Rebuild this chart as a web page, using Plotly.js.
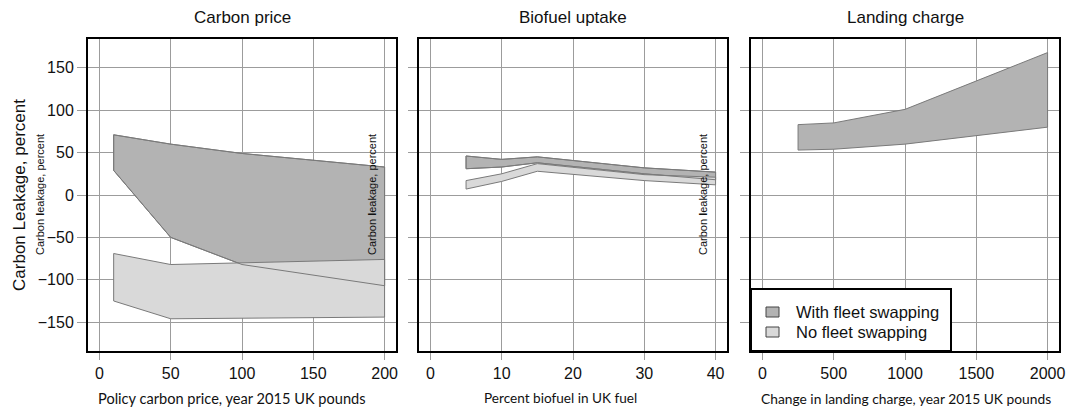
<!DOCTYPE html>
<html>
<head>
<meta charset="utf-8">
<script src="https://cdn.plot.ly/plotly-3.0.1.min.js"></script>
<style>
  html, body { margin: 0; padding: 0; background: #ffffff; }
  #chart { width: 1067px; height: 410px; }
</style>
</head>
<body>
<div id="chart"></div>
<script>
// Carbon leakage ranges (percent) for three policy levers, with and without fleet swapping.

// Panel 1: policy carbon price (year 2015 UK pounds)
const carbonPrice = [10, 50, 100, 200];
const carbonSwapUpper = [71, 60, 49, 33];
const carbonSwapLower = [29, -50, -82, -107];
const carbonNoSwapUpper = [-69, -82, -80, -76];
const carbonNoSwapLower = [-125, -146, -145, -144];

// Panel 2: percent biofuel in UK fuel
const biofuelShare = [5, 10, 15, 30, 40];
const biofuelSwapUpper = [46, 42, 45, 32, 27];
const biofuelSwapLower = [31, 33, 38, 25, 18];
const biofuelNoSwapUpper = [17, 25, 37, 24, 21];
const biofuelNoSwapLower = [7, 16, 28, 17, 12];

// Panel 3: change in landing charge (year 2015 UK pounds)
const landingCharge = [250, 500, 1000, 2000];
const landingSwapUpper = [83, 85, 101, 168];
const landingSwapLower = [53, 54, 60, 80];

// Axis ticks
const yTicks = [-150, -100, -50, 0, 50, 100, 150];
const xTicks1 = [0, 50, 100, 150, 200];
const xTicks2 = [0, 10, 20, 30, 40];
const xTicks3 = [0, 500, 1000, 1500, 2000];

const panelTitles = ['Carbon price', 'Biofuel uptake', 'Landing charge'];
const xTitles = [
  'Policy carbon price, year 2015 UK pounds',
  'Percent biofuel in UK fuel',
  'Change in landing charge, year 2015 UK pounds'
];
const yTitle = 'Carbon Leakage, percent';
const seriesNames = ['With fleet swapping', 'No fleet swapping'];

const DARK = '#b3b3b3';
const LIGHT = '#d9d9d9';
const EDGE = '#7a7a7a';
const GRID = '#9c9c9c';
const SANS = 'Liberation Sans, Arial, sans-serif';
const HUMANIST = 'Lato, Open Sans, sans-serif';

// Closed band polygon between an upper and a lower edge
function band(xs, upper, lower) {
  const x = xs.concat(xs.slice().reverse(), [xs[0]]);
  const y = upper.concat(lower.slice().reverse(), [upper[0]]);
  return { x, y };
}

function fillTrace(b, color, axis, name) {
  return {
    type: 'scatter', mode: 'lines', x: b.x, y: b.y,
    fill: 'toself', fillcolor: color,
    line: { color: EDGE, width: 1 },
    xaxis: 'x' + axis, yaxis: 'y' + axis,
    name: name, showlegend: false, hoverinfo: 'skip'
  };
}

function edgeTrace(b, axis) {
  return {
    type: 'scatter', mode: 'lines', x: b.x, y: b.y,
    line: { color: EDGE, width: 1 },
    xaxis: 'x' + axis, yaxis: 'y' + axis,
    showlegend: false, hoverinfo: 'skip'
  };
}

const b1s = band(carbonPrice, carbonSwapUpper, carbonSwapLower);
const b1n = band(carbonPrice, carbonNoSwapUpper, carbonNoSwapLower);
const b2s = band(biofuelShare, biofuelSwapUpper, biofuelSwapLower);
const b2n = band(biofuelShare, biofuelNoSwapUpper, biofuelNoSwapLower);
const b3s = band(landingCharge, landingSwapUpper, landingSwapLower);

const data = [
  fillTrace(b1s, DARK, '', seriesNames[0]),
  fillTrace(b1n, LIGHT, '', seriesNames[1]),
  edgeTrace(b1s, ''),
  fillTrace(b2s, DARK, '2', seriesNames[0]),
  fillTrace(b2n, LIGHT, '2', seriesNames[1]),
  edgeTrace(b2s, '2'),
  fillTrace(b3s, DARK, '3', seriesNames[0])
];

const W = 1067, H = 410;
const px = v => v / W;
const py = v => (H - v) / H;
const panelsX = [[88, 396], [419, 727], [751, 1059]];
const yDomain = [py(351), py(39)];

function xAxis(i, range, ticks) {
  return {
    domain: [px(panelsX[i][0]), px(panelsX[i][1])],
    range: range, tickvals: ticks, ticktext: ticks.map(String),
    anchor: i === 0 ? 'y' : 'y' + (i + 1),
    showgrid: true, gridcolor: GRID, gridwidth: 1, zeroline: false,
    showline: true, mirror: true, linecolor: '#000', linewidth: 2,
    ticks: 'outside', ticklen: 7, tickcolor: GRID, tickwidth: 1,
    tickfont: { family: SANS, size: 16, color: '#111' },
    title: { text: '' },
    fixedrange: true
  };
}

function yAxis(i) {
  return {
    domain: yDomain, range: [-184, 184], tickvals: yTicks,
    anchor: i === 0 ? 'x' : 'x' + (i + 1),
    showticklabels: i === 0,
    showgrid: true, gridcolor: GRID, gridwidth: 1, zeroline: false,
    showline: true, mirror: true, linecolor: '#000', linewidth: 2,
    ticks: 'outside', ticklen: 9, tickcolor: GRID, tickwidth: 1,
    tickfont: { family: SANS, size: 16, color: '#111' },
    title: i === 0 ? { text: yTitle, font: { family: SANS, size: 17, color: '#111' }, standoff: 8 } : { text: '' },
    fixedrange: true
  };
}

const annotations = [];
panelTitles.forEach((t, i) => {
  annotations.push({
    xref: 'paper', yref: 'paper',
    x: px((panelsX[i][0] + panelsX[i][1]) / 2), y: py(17),
    text: t, showarrow: false, xanchor: 'center', yanchor: 'middle',
    font: { family: SANS, size: 17, color: '#111' }
  });
});

// X-axis captions under each panel
const xTitleCenters = [232, 560, 906];
const xTitleSizes = [14.6, 13.6, 13.8];
xTitles.forEach((t, i) => {
  annotations.push({
    xref: 'paper', yref: 'paper', x: px(xTitleCenters[i]), y: py(398),
    text: t, showarrow: false, xanchor: 'center', yanchor: 'middle',
    font: { family: HUMANIST, size: xTitleSizes[i], color: '#111' }
  });
});

// Small rotated axis captions overlaid in each panel
[40, 372, 703].forEach(cx => {
  annotations.push({
    xref: 'paper', yref: 'paper', x: px(cx), y: py(195),
    text: 'Carbon <b>l</b>eakage, percent', textangle: -90,
    showarrow: false, xanchor: 'center', yanchor: 'middle',
    font: { family: SANS, size: 11, color: '#111' }
  });
});

// Legend, drawn in the lower-left corner of the landing charge panel
const legLeft = 751, legRight = 951, legTop = 289, legBottom = 351;
const rows = [312, 332];
const shapes = [
  {
    type: 'rect', xref: 'paper', yref: 'paper',
    x0: px(legLeft), x1: px(legRight), y0: py(legBottom), y1: py(legTop),
    fillcolor: '#ffffff', line: { color: '#000', width: 2 }, layer: 'above'
  }
];
[DARK, LIGHT].forEach((c, k) => {
  shapes.push({
    type: 'rect', xref: 'paper', yref: 'paper',
    x0: px(766), x1: px(779), y0: py(rows[k] + 5), y1: py(rows[k] - 5),
    fillcolor: c, line: { color: '#444', width: 1 }, layer: 'above'
  });
  annotations.push({
    xref: 'paper', yref: 'paper', x: px(794), y: py(rows[k]),
    text: seriesNames[k], showarrow: false, xanchor: 'left', yanchor: 'middle',
    font: { family: SANS, size: 16.5, color: '#111' }
  });
});

const layout = {
  width: W, height: H,
  margin: { l: 0, r: 0, t: 0, b: 0 },
  paper_bgcolor: '#ffffff', plot_bgcolor: '#ffffff',
  showlegend: false,
  xaxis: xAxis(0, [-8, 208], xTicks1),
  xaxis2: xAxis(1, [-1.6, 41.6], xTicks2),
  xaxis3: xAxis(2, [-80, 2080], xTicks3),
  yaxis: yAxis(0),
  yaxis2: yAxis(1),
  yaxis3: yAxis(2),
  annotations: annotations,
  shapes: shapes
};

Plotly.newPlot('chart', data, layout, { staticPlot: true, displayModeBar: false });
</script>
</body>
</html>
